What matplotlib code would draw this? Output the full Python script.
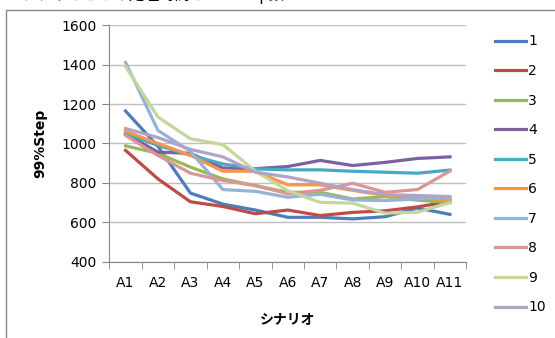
import matplotlib.pyplot as plt
from matplotlib.patches import Rectangle

plt.rcParams['font.family'] = ['DejaVu Sans', 'Noto Sans CJK JP']

scenarios = ['A1', 'A2', 'A3', 'A4', 'A5', 'A6', 'A7', 'A8', 'A9', 'A10', 'A11']

s1 = [1165, 985, 748, 692, 662, 625, 625, 617, 628, 672, 640]
s2 = [965, 820, 704, 680, 643, 662, 634, 650, 658, 678, 705]
s3 = [988, 950, 880, 820, 786, 752, 752, 718, 730, 712, 700]
s4 = [1050, 956, 950, 876, 872, 883, 914, 888, 904, 924, 932]
s5 = [1050, 990, 940, 896, 871, 866, 866, 859, 854, 849, 865]
s6 = [1062, 1000, 940, 859, 859, 790, 790, 762, 736, 728, 710]
s7 = [1412, 1066, 960, 766, 757, 727, 742, 713, 710, 718, 725]
s8 = [1041, 939, 849, 812, 786, 745, 762, 798, 752, 766, 860]
s9 = [1390, 1134, 1024, 994, 860, 760, 701, 697, 646, 651, 700]
s10 = [1076, 1030, 970, 932, 854, 830, 798, 766, 740, 736, 730]

series = [s1, s2, s3, s4, s5, s6, s7, s8, s9, s10]
names = ['1', '2', '3', '4', '5', '6', '7', '8', '9', '10']
colors = ['#4A7EBB', '#BE4B48', '#98B954', '#7D60A0', '#46AAC5',
          '#F79646', '#95B3D7', '#D99694', '#C3D69B', '#B3A2C7']

fig = plt.figure(figsize=(5.55, 3.38), dpi=100)
ax = fig.add_axes([0.197, 0.226, 0.643, 0.699])

x = range(len(scenarios))
for vals, name, c in zip(series, names, colors):
    ax.plot(x, vals, color=c, lw=2.3, label=name, solid_joinstyle='round')

ax.set_xlim(-0.5, len(scenarios) - 0.5)
ax.set_ylim(400, 1600)
ax.set_yticks(range(400, 1601, 200))
ax.set_xticks(list(x))
ax.set_xticklabels(scenarios)
ax.set_xticks([i - 0.5 for i in range(len(scenarios) + 1)], minor=True)

ax.grid(axis='y', color='#BFBFBF', lw=1)
ax.set_axisbelow(True)
for side in ['top', 'right']:
    ax.spines[side].set_visible(False)
for side in ['left', 'bottom']:
    ax.spines[side].set_color('#868686')
ax.tick_params(axis='y', length=5, color='#868686', labelsize=10, pad=4)
ax.tick_params(axis='x', which='major', length=0, labelsize=10, pad=10)
ax.tick_params(axis='x', which='minor', length=5, color='#868686')

ax.set_ylabel('99%Step', fontsize=10, fontweight='bold', labelpad=10)
ax.set_xlabel('シナリオ', fontsize=10, fontweight='bold', labelpad=16,
              family=['Noto Sans CJK JP', 'DejaVu Sans'])

leg = ax.legend(loc='upper left', bbox_to_anchor=(1.065, 0.985), frameon=False,
                fontsize=10, handlelength=2.2, handletextpad=0.2,
                labelspacing=1.12, borderaxespad=0)

# chart frame
fig.patches.append(Rectangle((6 / 555, -0.1), 1.1, 1.1 - 10 / 338,
                             transform=fig.transFigure, fill=False,
                             edgecolor='#888888', lw=1))

# caption line above the chart, only its lower part visible
fig.text(22 / 555, 1 + 5 / 338, 'シナリオごとの処理時間と99%Step数', fontsize=11,
         va='center', ha='left', family=['Noto Sans CJK JP', 'DejaVu Sans'])

fig.savefig('out.png', dpi=100)
